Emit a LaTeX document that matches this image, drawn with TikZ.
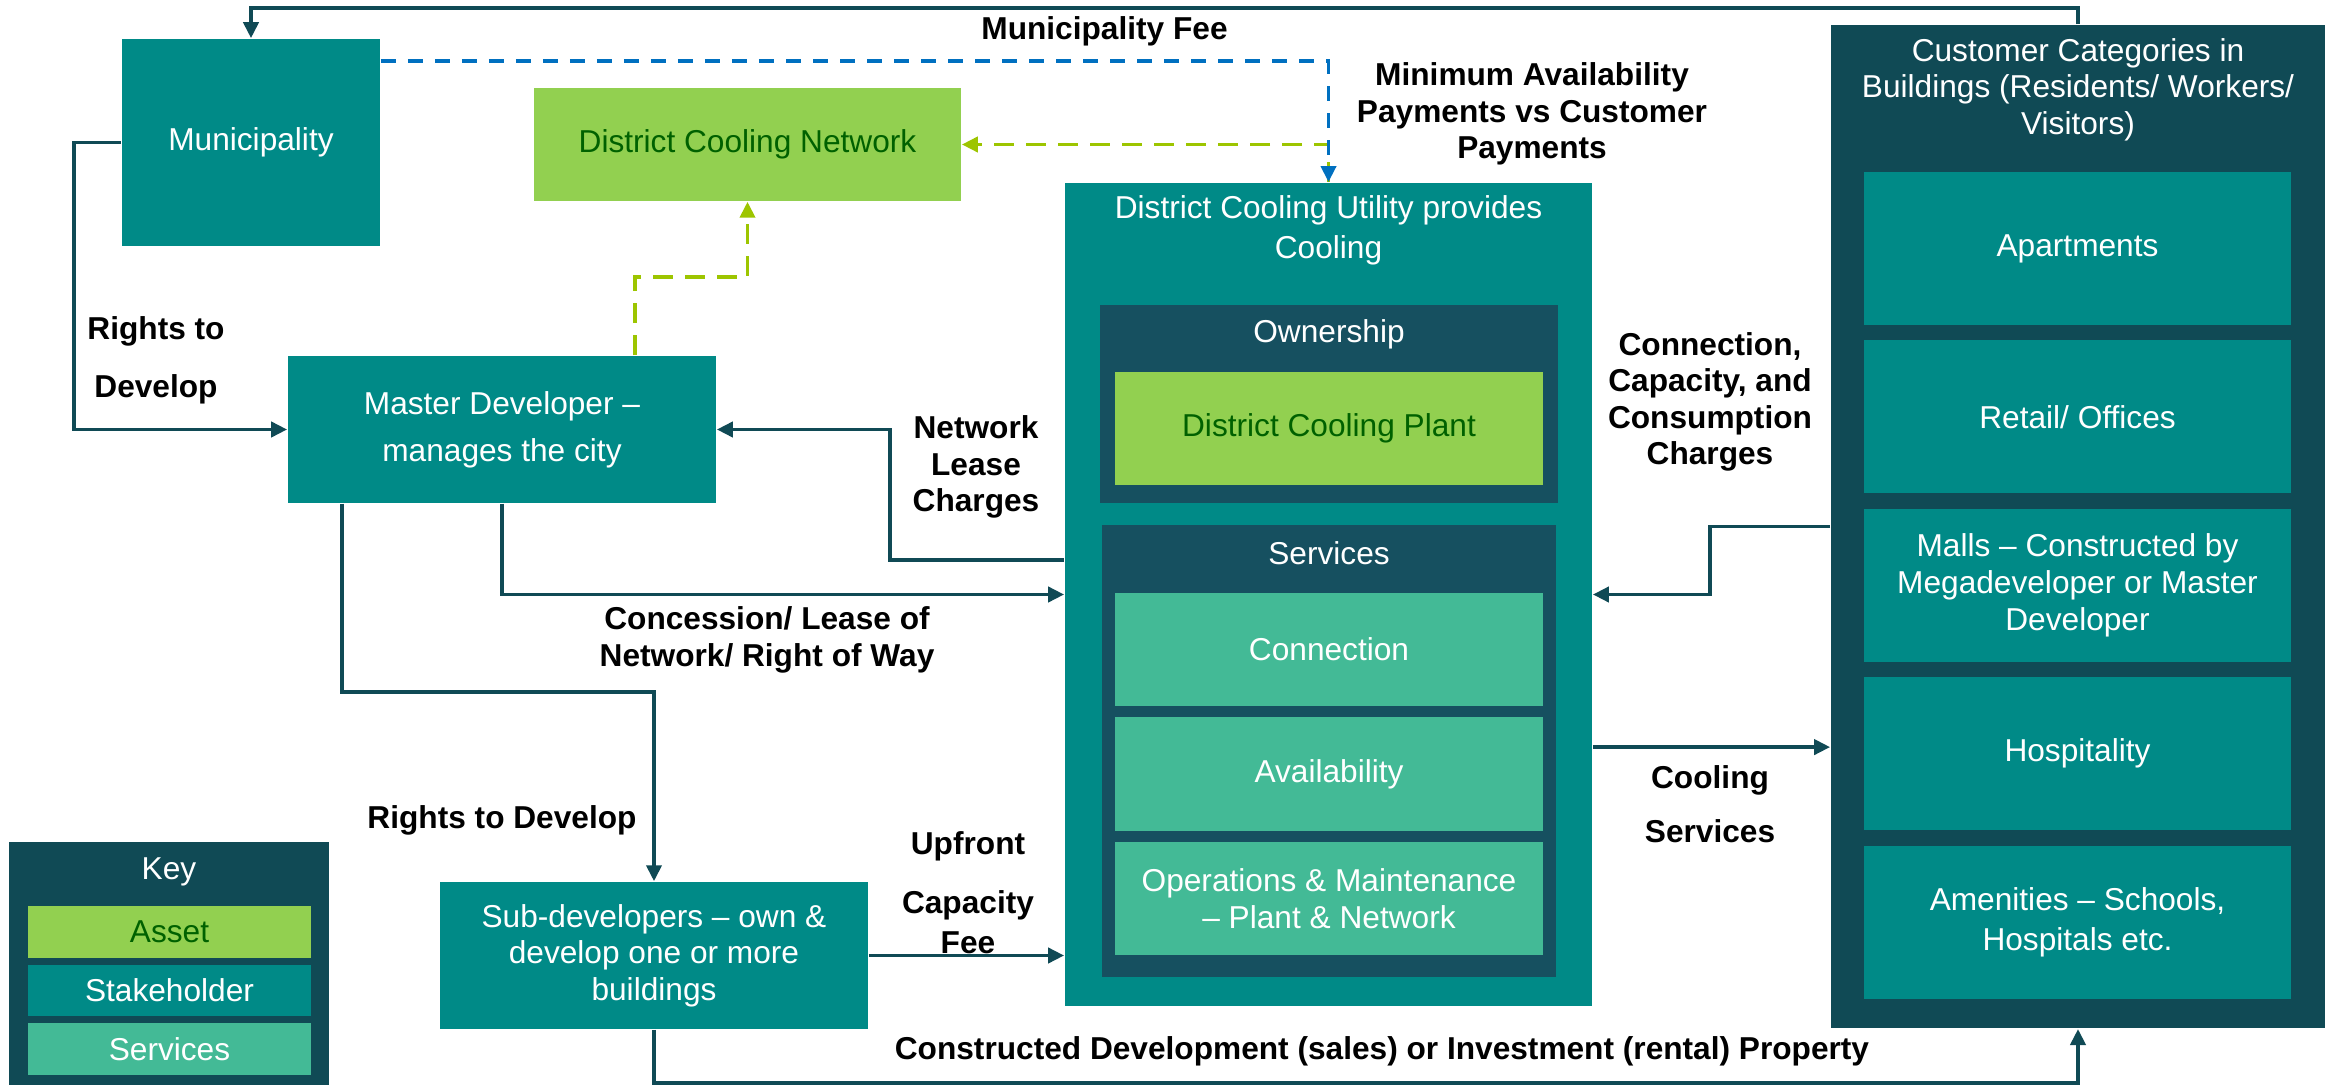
\documentclass[tikz,border=0pt]{standalone}
\usepackage{fontspec}
\setmainfont{Liberation Sans}
\usetikzlibrary{arrows.meta}
\definecolor{stakecol}{RGB}{0,138,135}
\definecolor{darkcol}{RGB}{16,74,85}
\definecolor{innercol}{RGB}{22,80,96}
\definecolor{assetcol}{RGB}{146,208,80}
\definecolor{assettxt}{RGB}{0,97,0}
\definecolor{servcol}{RGB}{67,186,150}
\definecolor{linecol}{RGB}{16,74,85}
\definecolor{feecol}{RGB}{0,112,192}
\definecolor{leasecol}{RGB}{157,197,0}
\begin{document}
\begin{tikzpicture}[x=0.01cm,y=-0.01cm,
	every node/.style={font=\fontsize{9}{10.4}\selectfont,align=center,inner sep=0,text=white},
	stake/.style={fill=stakecol,minimum width=4.28cm,minimum height=1.47cm},
	asset/.style={fill=assetcol,text=assettxt},
	serv/.style={fill=servcol,minimum width=4.28cm,minimum height=1.13cm},
	holder/.style={fill=#1},
	lbl/.style={text=black,font=\fontsize{9}{10.4}\selectfont\bfseries},
	flow/.style={draw=linecol,line width=1.1pt,-{Triangle[length=0.16cm,width=0.15cm]}},
	fee/.style={draw=feecol,line width=1.1pt,dash pattern=on 0.15cm off 0.12cm,-{Triangle[length=0.16cm,width=0.15cm]}},
	lease/.style={draw=leasecol,line width=1.1pt,dash pattern=on 0.2cm off 0.12cm,-{Triangle[length=0.16cm,width=0.15cm]}}]
\useasboundingbox (0,0) rectangle (2336,1085);

% stakeholders on the left
\node[stake,minimum width=2.58cm,minimum height=2.07cm] (muni) at (251,142.5) {Municipality};
\node[asset,minimum width=4.27cm,minimum height=1.13cm] (dcn) at (747.5,144.5) {District Cooling Network};
\node[stake] (md) at (502,429.5) {Master Developer –\\[3pt]manages the city};
\node[stake] (sd) at (654,955.5) {Sub-developers – own \&\\develop one or more\\buildings};

% utility
\node[stake,minimum width=5.27cm,minimum height=8.23cm] (dcu) at (1328.5,594.5) {};
\node (dcut) at (1328.5,230.5) {District Cooling Utility provides\\[1pt]Cooling};
\node[holder=innercol,minimum width=4.58cm,minimum height=1.98cm] (own) at (1329,404) {};
\node (ownt) at (1329,334) {Ownership};
\node[asset,minimum width=4.28cm,minimum height=1.13cm] (dcp) at (1329,428.5) {District Cooling Plant};
\node[holder=innercol,minimum width=4.54cm,minimum height=4.52cm] (srv) at (1329,751) {};
\node (srvt) at (1329,553) {Services};
\node[serv] (conn) at (1329,649.5) {Connection};
\node[serv] (avail) at (1329,774) {Availability};
\node[serv] (om) at (1329,898.5) {Operations \& Maintenance\\– Plant \& Network};

% customers
\node[holder=darkcol,minimum width=4.94cm,minimum height=10.03cm] (cust) at (2078,526.5) {};
\node (custt) at (2078,89.5) {Customer Categories in\\Buildings (Residents/ Workers/\\Visitors)};
\foreach \t [count=\i] in {Apartments,Retail/ Offices,{Malls – Constructed by\\Megadeveloper or Master\\Developer},Hospitality,{Amenities – Schools,\\[1pt]Hospitals etc.}}
	\node[stake,minimum width=4.27cm,minimum height=1.53cm] (c\i) at (2077.5,{248.5+168.4*(\i-1)}) {\t};

% key
\node[holder=darkcol,minimum width=3.2cm,minimum height=2.43cm] (key) at (169,963.5) {};
\node (keyt) at (169,872) {Key};
\node[asset,minimum width=2.83cm,minimum height=0.52cm] (kasset) at (169.5,932) {Asset};
\node[stake,minimum width=2.83cm,minimum height=0.51cm] (kstake) at (169.5,990.5) {Stakeholder};
\node[serv,minimum width=2.83cm,minimum height=0.52cm] (kserv) at (169.5,1049) {Services};

% labels
\node[lbl] (feelbl) at (1104.5,31) {Municipality Fee};
\node[lbl] (minlbl) at (1532,114) {Minimum Availability\\Payments vs Customer\\Payments};
\node[lbl] (rtdlbl) at (156,360) {Rights to\\[6pt]Develop};
\node[lbl] (leaselbl) at (976,467) {Network\\Lease\\Charges};
\node[lbl] (conclbl) at (767,640) {Concession/ Lease of\\Network/ Right of Way};
\node[lbl] (subrtdlbl) at (502,820) {Rights to Develop};
\node[lbl] (uplbl) at (968,846) {Upfront};
\node[lbl] (caplbl) at (968,922) {Capacity\\[1pt]Fee};
\node[lbl] (chglbl) at (1710,402) {Connection,\\Capacity, and\\Consumption\\Charges};
\node[lbl] (coollbl) at (1710,804.5) {Cooling\\[5pt]Services};
\node[lbl] (proplbl) at (1382,1051) {Constructed Development (sales) or Investment (rental) Property};

% connectors
\draw[flow] (cust.north) -- ++(0,-16) -| (muni.north);
\draw[lease] (dcu.north) |- (dcn.east);
\draw[fee] ([yshift=-0.23cm]muni.north east) -| (dcu.north);
\draw[lease] ([xshift=1.33cm]md.north) -- ++(0,-78) -| (dcn.south);
\draw[flow] (muni.west) -- ++(-47,0) |- (md.west);
\draw[flow] ([yshift=0.345cm]dcu.west) -- ++(-174,0) |- (md.east);
\draw[flow] (md.south) |- (dcu.west);
\draw[flow] ([xshift=-1.6cm]md.south) -- ++(0,188) -| (sd.north);
\draw[flow] (sd.east) -- (sd.east -| dcu.west);
\draw[flow] (sd.south) -- ++(0,53) -| (cust.south);
\draw[flow] (cust.west) -- ++(-120,0) |- (dcu.east);
\draw[flow] ([yshift=-1.525cm]dcu.east) coordinate (cs) -- (cs -| cust.west);
\end{tikzpicture}
\end{document}
